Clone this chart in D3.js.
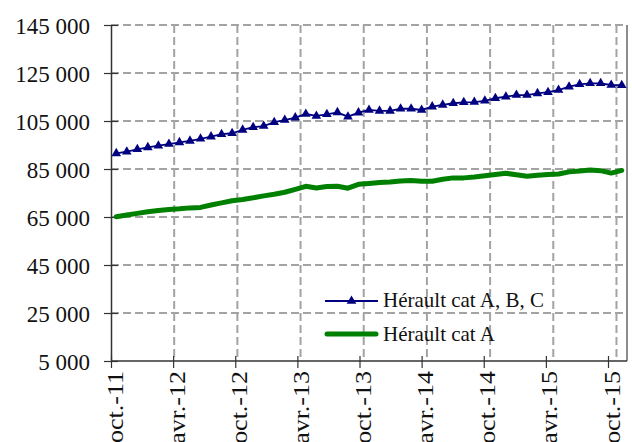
<!DOCTYPE html>
<html><head><meta charset="utf-8">
<script src="https://cdn.jsdelivr.net/npm/d3@7/dist/d3.min.js"></script>
</head><body style="margin:0;background:#fff">
<svg id="c" width="632" height="442" style="display:block;font-family:'Liberation Serif'"></svg>
<script>
const months = ["oct.-11","nov.-11","déc.-11","janv.-12","févr.-12","mars-12","avr.-12","mai-12","juin-12","juil.-12","août-12","sept.-12",
"oct.-12","nov.-12","déc.-12","janv.-13","févr.-13","mars-13","avr.-13","mai-13","juin-13","juil.-13","août-13","sept.-13",
"oct.-13","nov.-13","déc.-13","janv.-14","févr.-14","mars-14","avr.-14","mai-14","juin-14","juil.-14","août-14","sept.-14",
"oct.-14","nov.-14","déc.-14","janv.-15","févr.-15","mars-15","avr.-15","mai-15","juin-15","juil.-15","août-15","sept.-15","oct.-15"];
const catABC = [91500,92200,93200,94000,94700,95400,96100,96700,97600,98500,99500,99900,
101300,102400,102900,104500,105400,106400,107900,107100,107800,108600,106800,108500,
109600,109200,109200,110100,110100,109600,111000,111700,112400,112800,112900,113400,
114500,115100,115800,115800,116500,117000,117900,119300,120300,120700,120700,120000,119900];
const catA = [65100,65800,66500,67200,67700,68100,68400,68800,69000,70000,70900,71800,
72300,73000,73800,74500,75300,76500,77800,77100,77700,77800,77000,78600,
79000,79400,79600,80000,80200,79900,79900,80700,81300,81300,81700,82200,
82700,83200,82600,82000,82400,82700,82900,83800,84200,84600,84300,83300,84400];
const yTicks = [5000,25000,45000,65000,85000,105000,125000,145000];
const xTickLabels = ["oct.-11","avr.-12","oct.-12","avr.-13","oct.-13","avr.-14","oct.-14","avr.-15","oct.-15"];
const seriesNames = ["Hérault cat A, B, C","Hérault cat A"];

const svg = d3.select("#c");
const L=111, R=627, T=25, B=361;
const y = d3.scaleLinear().domain([5000,145000]).range([B,T]);
const x = d3.scaleLinear().domain([0,months.length]).range([L,R]);
const xLab = d3.scaleLinear().domain([0,months.length-1]).range([L,608]);
const FF = "Liberation Serif";
const gridCol = "#a3a3a3";

svg.append("g").selectAll("line").data(yTicks.filter(d=>d>5000)).join("line")
  .attr("x1",L).attr("x2",R).attr("y1",d=>y(d)).attr("y2",d=>y(d))
  .attr("stroke",gridCol).attr("stroke-width",2).attr("stroke-dasharray","8,4");
const gridIdx = xTickLabels.map((d,i)=>i*6).filter(i=>i>0);
svg.append("g").selectAll("line").data(gridIdx).join("line")
  .attr("x1",d=>x(d)).attr("x2",d=>x(d)).attr("y1",T).attr("y2",B)
  .attr("stroke",gridCol).attr("stroke-width",2).attr("stroke-dasharray","8,4");
svg.append("line").attr("x1",R).attr("x2",R).attr("y1",T).attr("y2",B)
  .attr("stroke","#8c8c8c").attr("stroke-width",2);

const yAxis = svg.append("g").attr("transform",`translate(${L},0)`)
  .call(d3.axisLeft(y).tickValues(yTicks).tickSizeInner(7).tickSizeOuter(0).tickPadding(14)
    .tickFormat(d=>d3.format(",")(d).replace(/,/g," ")));
yAxis.attr("font-family",FF).attr("font-size",23);
yAxis.select(".domain").attr("stroke","#333").attr("stroke-width",1.5);
yAxis.selectAll(".tick line").attr("stroke","#333").attr("stroke-width",1.2).attr("x2",7).attr("x1",-7);
yAxis.selectAll("text").attr("fill","#111").attr("dy","0.35em");

const xAxis = svg.append("g").attr("transform",`translate(0,${B})`)
  .call(d3.axisBottom(xLab).tickValues(xTickLabels.map((d,i)=>i*6)).tickSizeInner(6).tickSizeOuter(0)
    .tickFormat(i=>months[i]));
xAxis.attr("font-family",FF).attr("font-size",23);
xAxis.select(".domain").attr("d",`M${L},0H${R}`).attr("stroke","#333").attr("stroke-width",1.5);
xAxis.selectAll(".tick line").attr("stroke","#333").attr("stroke-width",1.2).attr("y1",-5).attr("y2",7);
const sx = 1.13;
xAxis.selectAll("text").attr("fill","#111")
  .attr("text-anchor","end").attr("transform",`rotate(-90) scale(${sx},1)`).attr("x",-10/sx).attr("y",3).attr("dy","0.35em");

const px = (d,i)=>x(i+0.5);
const lineGen = d3.line().x(px).y(d=>y(d));
svg.append("path").datum(catA).attr("d",lineGen).attr("fill","none")
  .attr("stroke","#008000").attr("stroke-width",5).attr("stroke-linejoin","round").attr("stroke-linecap","round");
svg.append("path").datum(catABC).attr("d",lineGen).attr("fill","none")
  .attr("stroke","#000080").attr("stroke-width",1.8);
const tri = d3.symbol().type(d3.symbolTriangle).size(40);
svg.append("g").selectAll("path").data(catABC).join("path")
  .attr("d",tri).attr("transform",(d,i)=>`translate(${px(d,i)},${y(d)})`).attr("fill","#000080");

const lg = svg.append("g").attr("font-family",FF).attr("font-size",21).attr("fill","#111");
lg.append("line").attr("x1",325).attr("x2",378).attr("y1",301).attr("y2",301).attr("stroke","#000080").attr("stroke-width",1.8);
lg.append("path").attr("d",tri).attr("transform","translate(351.5,301)").attr("fill","#000080");
lg.append("text").attr("x",383).attr("y",307).text(seriesNames[0]);
lg.append("line").attr("x1",327).attr("x2",376).attr("y1",334).attr("y2",334).attr("stroke","#008000").attr("stroke-width",5).attr("stroke-linecap","round");
lg.append("text").attr("x",383).attr("y",341).text(seriesNames[1]);
</script>
</body></html>
